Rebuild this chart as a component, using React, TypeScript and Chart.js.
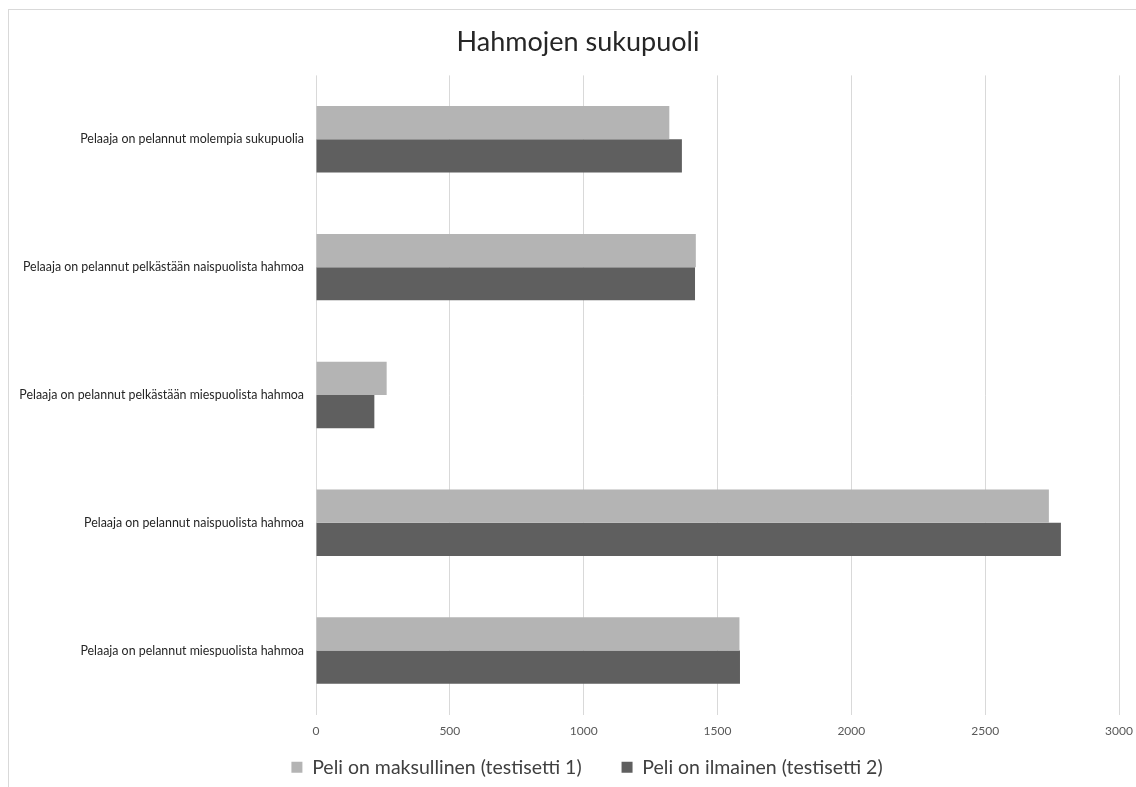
import { useEffect, useRef } from "react";
import { Chart, registerables } from "chart.js";

Chart.register(...registerables);

const chartTitle = "Hahmojen sukupuoli";
const categories = [
  "Pelaaja on pelannut molempia sukupuolia",
  "Pelaaja on pelannut pelkästään naispuolista hahmoa",
  "Pelaaja on pelannut pelkästään miespuolista hahmoa",
  "Pelaaja on pelannut naispuolista hahmoa",
  "Pelaaja on pelannut miespuolista hahmoa",
];
const seriesNames = ["Peli on maksullinen (testisetti 1)", "Peli on ilmainen (testisetti 2)"];
const paidValues = [1320, 1419, 264, 2738, 1582];
const freeValues = [1367, 1416, 218, 2783, 1584];
const xTickValues = [0, 500, 1000, 1500, 2000, 2500, 3000];

const FONT = "Lato, 'Open Sans', sans-serif";

// Nudges the legend row slightly to the right of the canvas centre.
const legendShift = {
  id: "legendShift",
  afterLayout(chart: any) {
    const lg = chart.legend;
    if (lg) {
      lg.left += 9;
      lg.right += 9;
    }
  },
};

export default function App() {
  const canvasRef = useRef<HTMLCanvasElement | null>(null);

  useEffect(() => {
    const canvas = canvasRef.current;
    if (!canvas) return;
    const chart = new Chart(canvas, {
      type: "bar",
      data: {
        labels: categories,
        datasets: [
          {
            label: seriesNames[0],
            data: paidValues,
            backgroundColor: "#b4b4b4",
            barPercentage: 1,
            categoryPercentage: 0.52,
          },
          {
            label: seriesNames[1],
            data: freeValues,
            backgroundColor: "#5f5f5f",
            barPercentage: 1,
            categoryPercentage: 0.52,
          },
        ],
      },
      options: {
        indexAxis: "y",
        animation: false,
        responsive: true,
        maintainAspectRatio: false,
        events: [],
        layout: { padding: 0 },
        scales: {
          x: {
            min: 0,
            max: 3000,
            afterBuildTicks: (scale: any) => {
              scale.ticks = xTickValues.map((v) => ({ value: v }));
            },
            afterFit: (scale: any) => {
              scale.height = 33;
              scale.paddingRight = 28;
            },
            grid: { color: "#d9d9d9", drawTicks: false, lineWidth: 1 },
            border: { display: false },
            ticks: {
              padding: 9,
              color: "#595959",
              font: { family: FONT, size: 12 },
              callback: (v: any) => String(v),
            },
          },
          y: {
            afterFit: (scale: any) => {
              scale.width = 307;
            },
            grid: { display: false, drawTicks: false },
            border: { display: false },
            ticks: {
              padding: 12,
              color: "#262626",
              font: { family: FONT, size: 12.4 },
            },
          },
        },
        plugins: {
          tooltip: { enabled: false },
          title: {
            display: true,
            text: chartTitle,
            color: "#262626",
            font: { family: FONT, size: 27, weight: "normal" },
            padding: { top: 16, bottom: 17 },
          },
          legend: {
            position: "bottom",
            labels: {
              boxWidth: 11,
              boxHeight: 11,
              padding: 10,
              color: "#404040",
              font: { family: FONT, size: 19.5 },
              generateLabels: (c: any) => {
                const items = Chart.defaults.plugins.legend.labels.generateLabels(c);
                return items.map((it: any, i: number) => ({
                  ...it,
                  lineWidth: 0,
                  text: i === 0 ? it.text + "      " : it.text,
                }));
              },
            },
          },
        },
      },
      plugins: [legendShift],
    });
    return () => chart.destroy();
  }, []);

  return (
    <div
      style={{
        position: "fixed",
        left: 8,
        top: 9,
        width: 1139,
        height: 778,
        boxSizing: "border-box",
        borderTop: "1px solid #d9d9d9",
        borderLeft: "1px solid #d9d9d9",
        background: "#ffffff",
      }}
    >
      <canvas ref={canvasRef} />
    </div>
  );
}
